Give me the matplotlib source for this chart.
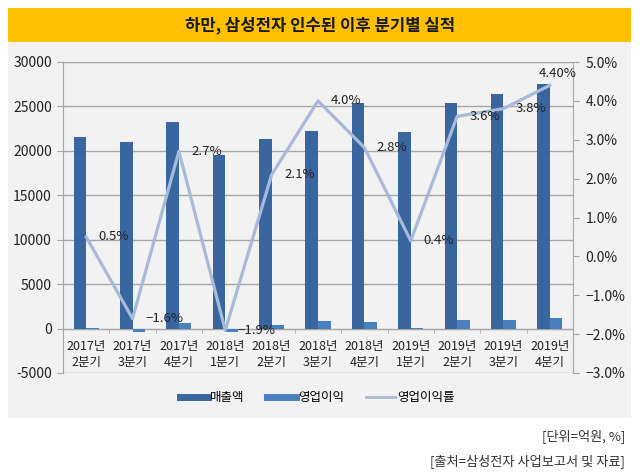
import matplotlib
matplotlib.use("Agg")
import matplotlib.pyplot as plt
import numpy as np
from matplotlib.lines import Line2D
from matplotlib.patches import Rectangle

plt.rcParams['font.family'] = ['Liberation Sans Narrow', 'Noto Sans CJK KR', 'DejaVu Sans']

categories = ["2017년\n2분기", "2017년\n3분기", "2017년\n4분기", "2018년\n1분기", "2018년\n2분기",
              "2018년\n3분기", "2018년\n4분기", "2019년\n1분기", "2019년\n2분기", "2019년\n3분기",
              "2019년\n4분기"]
revenue = [21600, 20980, 23300, 19480, 21390, 22220, 25410, 22100, 25370, 26430, 27470]
op_income = [108, -336, 630, -370, 450, 890, 710, 88, 914, 1003, 1210]
op_margin = [0.5, -1.6, 2.7, -1.9, 2.1, 4.0, 2.8, 0.4, 3.6, 3.8, 4.4]
margin_labels = ["0.5%", "\u22121.6%", "2.7%", "\u22121.9%", "2.1%", "4.0%", "2.8%", "0.4%",
                 "3.6%", "3.8%", "4.40%"]
left_ticks = [-5000, 0, 5000, 10000, 15000, 20000, 25000, 30000]
right_ticks = [-3, -2, -1, 0, 1, 2, 3, 4, 5]

c_rev = "#3A66A0"
c_oi = "#4A7FC0"
c_line = "#A7BADA"
c_grid = "#A6A6A6"
c_text = "#222222"

fig = plt.figure(figsize=(6.4, 4.75), dpi=100)
fig.patch.set_facecolor("white")

# gray panel and yellow title banner
fig.patches.append(Rectangle((8/640, (475-418)/475), 623/640, (418-42)/475,
                             transform=fig.transFigure, facecolor="#F2F2F2", edgecolor="none", zorder=-10))
fig.patches.append(Rectangle((8/640, (475-42)/475), 623/640, 34/475,
                             transform=fig.transFigure, facecolor="#FFC000", edgecolor="none", zorder=-10))
fig.text(0.5, (475-25)/475, "하만, 삼성전자 인수된 이후 분기별 실적", ha="center", va="center",
         fontsize=12, fontweight="bold", color="#1a1a1a", family=["Noto Sans CJK KR"])

ax = fig.add_axes([63/640, (475-373)/475, 510/640, 311/475])
ax.set_zorder(1)
ax.set_facecolor("#F2F2F2")
x = np.arange(len(categories))
w = 0.27
ax.bar(x - w/2, revenue, w, color=c_rev, zorder=3, label="매출액")
ax.bar(x + w/2, op_income, w, color=c_oi, zorder=3, label="영업이익")
ax.set_xlim(-0.5, len(categories) - 0.5)
ax.set_ylim(-5000, 30000)
ax.set_yticks(left_ticks)
ax.set_yticklabels([str(t) for t in left_ticks])
ax.yaxis.grid(True, color=c_grid, linewidth=1, zorder=0)
ax.set_axisbelow(True)
for s in ["left", "right", "top"]:
    ax.spines[s].set_color(c_grid)
ax.spines["bottom"].set_position(("data", 0))
ax.spines["bottom"].set_color(c_grid)
ax.set_xticks(x)
ax.set_xticklabels(categories, fontsize=9, color=c_text, linespacing=1.3)
ax.set_xticks(x[:-1] + 0.5, minor=True)
ax.tick_params(axis="x", which="major", length=0, pad=8)
ax.tick_params(axis="x", which="minor", length=3, color=c_grid, direction="out")
ax.tick_params(axis="y", length=4, color=c_grid, labelsize=10, labelcolor=c_text, pad=4)

ax2 = ax.twinx()
ax2.set_zorder(2)
ax2.patch.set_visible(False)
ax2.plot(x, op_margin, color=c_line, linewidth=2.3, zorder=4, label="영업이익률")
ax2.set_ylim(-3, 5)
ax2.set_yticks(right_ticks)
ax2.set_yticklabels([f"{t:.1f}%".replace("-", "\u2212") for t in right_ticks])
ax2.tick_params(axis="y", length=4, color=c_grid, labelsize=10, labelcolor=c_text, pad=5)
for s in ["left", "right", "top", "bottom"]:
    ax2.spines[s].set_visible(False)

for i, (v, lab) in enumerate(zip(op_margin, margin_labels)):
    if i == len(op_margin) - 1:
        ax2.annotate(lab, (x[i], v), xytext=(6, 4), textcoords="offset points",
                     ha="center", va="bottom", fontsize=9.5, color=c_text, zorder=5)
    else:
        ax2.annotate(lab, (x[i], v), xytext=(9, 0), textcoords="offset points",
                     ha="left", va="center", fontsize=9.5, color=c_text, zorder=5)

handles = [Line2D([], [], color=c_rev, lw=5), Line2D([], [], color=c_oi, lw=5),
           Line2D([], [], color=c_line, lw=2)]
fig.legend(handles, ["매출액", "영업이익", "영업이익률"], loc="center",
           bbox_to_anchor=(317/640, (475-398)/475), ncol=3, frameon=False,
           handlelength=2.3, handletextpad=0.15, columnspacing=1.8,
           prop={"family": ["Noto Sans CJK KR"], "size": 9})

fig.text(625/640, (475-436)/475, "[단위=억원, %]", ha="right", va="center", fontsize=9.5,
         color="#333333", family=["Noto Sans CJK KR"])
fig.text(625/640, (475-461)/475, "[출처=삼성전자 사업보고서 및 자료]", ha="right", va="center",
         fontsize=9.5, color="#333333", family=["Noto Sans CJK KR"])

fig.savefig("out.png", dpi=100)
